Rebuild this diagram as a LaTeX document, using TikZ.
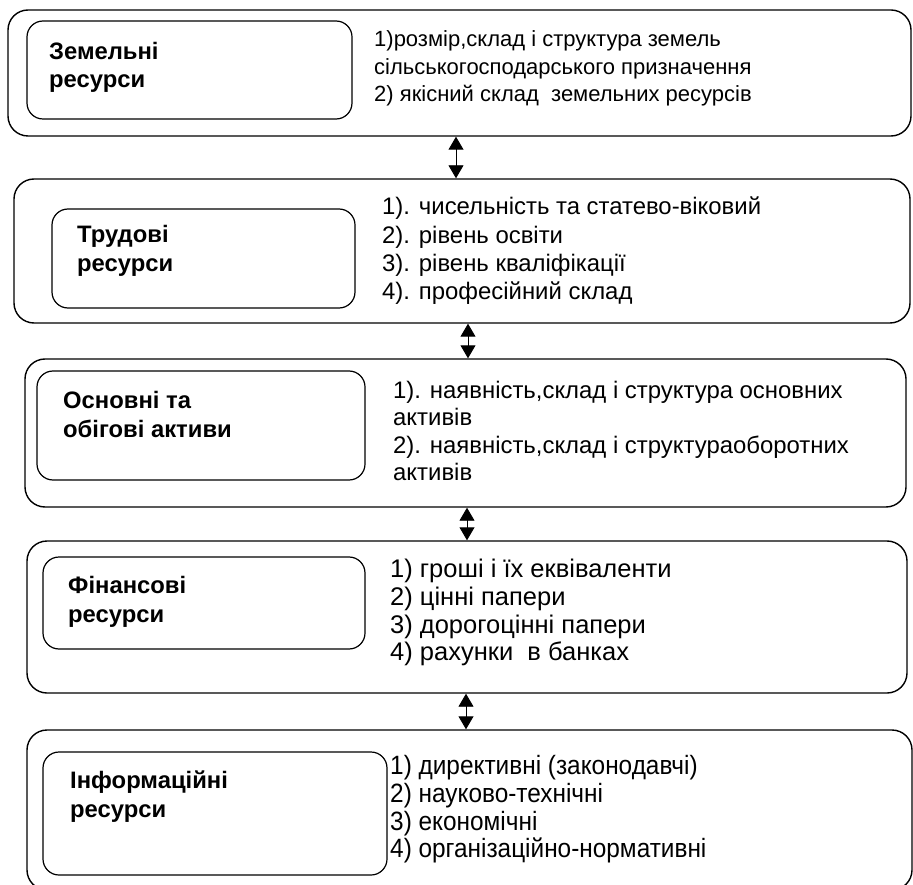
\documentclass[tikz,border=0pt]{standalone}
\usepackage{fontspec}
\setmainfont{Liberation Sans}
\newfontfamily\narrowfont[FakeStretch=0.92]{Liberation Sans}
\usetikzlibrary{arrows.meta}
\tikzset{
  outerbox/.style={draw, line width=1.4pt, rounded corners=20pt, inner sep=0pt},
  innerbox/.style={draw, line width=1.2pt, rounded corners=16pt, inner sep=0pt},
  ttl/.style={anchor=base west, inner sep=0pt, font=\fontsize{23.8}{28}\selectfont\bfseries},
  itm/.style={anchor=base west, inner sep=0pt, font=\fontsize{#1}{28}\selectfont},
  itm/.default=22,
  nitm/.style={anchor=base west, inner sep=0pt, font=\narrowfont\fontsize{26.5}{28}\selectfont},
  link/.style={line width=0.9pt, {Triangle[width=15pt,length=13pt]}-{Triangle[width=15pt,length=13pt]}},
}
\begin{document}
\begin{tikzpicture}[x=1pt,y=-1pt]
\useasboundingbox (0,0) rectangle (913,885);
\clip (0,0) rectangle (913,885);
% outer boxes
\node[outerbox, minimum width=903pt, minimum height=126pt] (o1) at (459.5,73) {};
\node[outerbox, minimum width=896pt, minimum height=144pt] (o2) at (462,251) {};
\node[outerbox, minimum width=881pt, minimum height=148pt] (o3) at (465.5,433) {};
\node[outerbox, minimum width=880pt, minimum height=152pt] (o4) at (467,617) {};
\node[outerbox, minimum width=885pt, minimum height=160pt] (o5) at (469.5,810) {};
% inner boxes
\node[innerbox, minimum width=325pt, minimum height=98pt] (i1) at (189.5,70) {};
\node[innerbox, minimum width=303pt, minimum height=99pt] (i2) at (203.5,258.5) {};
\node[innerbox, minimum width=328pt, minimum height=109pt] (i3) at (201,425.5) {};
\node[innerbox, minimum width=322pt, minimum height=92pt] (i4) at (204,603) {};
\node[innerbox, minimum width=344pt, minimum height=123pt] (i5) at (215,813.5) {};
% titles
\node[ttl] (t1a) at (49,60) {Земельні};
\node[ttl] (t1b) at (49,88) {ресурси};
\node[ttl] (t2a) at (77,243) {Трудові};
\node[ttl] (t2b) at (77,272) {ресурси};
\node[ttl] (t3a) at (63,408) {Основні та};
\node[ttl] (t3b) at (63,437) {обігові активи};
\node[ttl] (t4a) at (68,593) {Фінансові};
\node[ttl] (t4b) at (68,622) {ресурси};
\node[ttl] (t5a) at (70,788) {Інформаційні};
\node[ttl] (t5b) at (70,817) {ресурси};
% lists
\node[itm] (l1a) at (374,47) {1)розмір,склад і структура земель};
\node[itm] (l1b) at (374,75) {сільськогосподарського призначення};
\node[itm] (l1c) at (374,102) {2) якісний склад\ \ земельних ресурсів};
\node[itm=23.9] (l2a) at (382,215) {1). чисельність та статево-віковий};
\node[itm=23.9] (l2b) at (382,244) {2). рівень освіти};
\node[itm=23.9] (l2c) at (382,272) {3). рівень кваліфікації};
\node[itm=23.9] (l2d) at (382,300) {4). професійний склад};
\node[itm=23.9] (l3a) at (393,398) {1). наявність,склад і структура основних};
\node[itm=23.9] (l3b) at (393,425) {активів};
\node[itm=23.9] (l3c) at (393,453) {2). наявність,склад і структураоборотних};
\node[itm=23.9] (l3d) at (393,480) {активів};
\node[itm=25.5] (l4a) at (390,577) {1) гроші і їх еквіваленти};
\node[itm=25.5] (l4b) at (390,605) {2) цінні папери};
\node[itm=25.5] (l4c) at (390,633) {3) дорогоцінні папери};
\node[itm=25.5] (l4d) at (390,660) {4) рахунки\ \ в банках};
\node[nitm] (l5a) at (390,774) {1) директивні (законодавчі)};
\node[nitm] (l5b) at (390,802) {2) науково-технічні};
\node[nitm] (l5c) at (390,830) {3) економічні};
\node[nitm] (l5d) at (390,857) {4) організаційно-нормативні};
% connectors
\coordinate (a1) at (456,0);
\coordinate (a2) at (468,0);
\coordinate (a3) at (467,0);
\coordinate (a4) at (466,0);
\draw[link] (o1.south -| a1) -- (o2.north -| a1);
\draw[link] (o2.south -| a2) -- (o3.north -| a2);
\draw[link] (o3.south -| a3) -- (o4.north -| a3);
\draw[link] (o4.south -| a4) -- (o5.north -| a4);
\end{tikzpicture}
\end{document}
